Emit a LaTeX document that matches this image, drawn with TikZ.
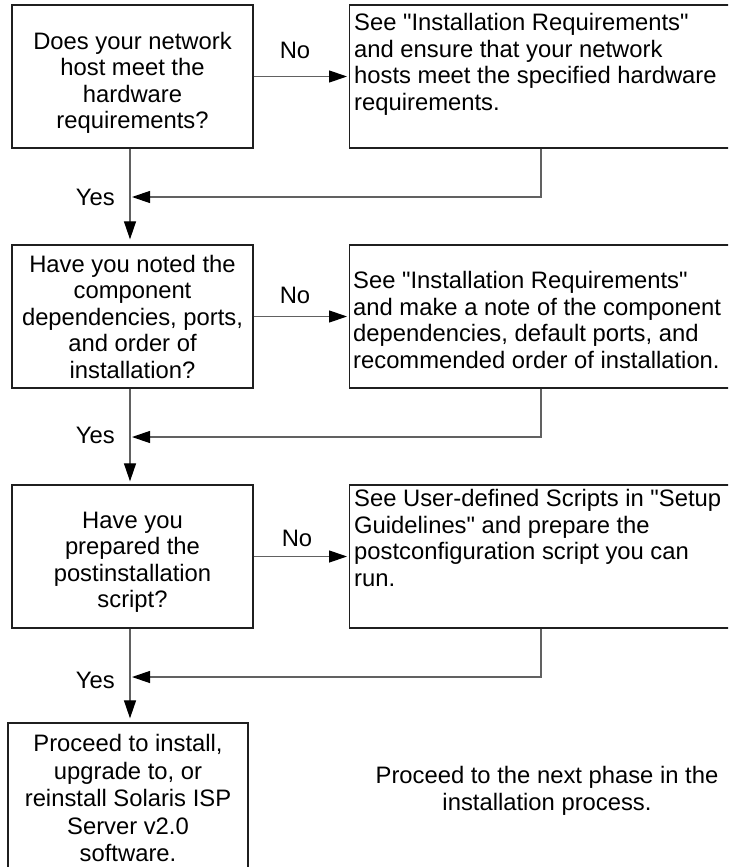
\documentclass[tikz,border=0pt]{standalone}
\usepackage{fontspec}
\setmainfont{Liberation Sans}
\usetikzlibrary{arrows.meta,calc}
\newcommand\qq{\textquotedbl}
\begin{document}
\begin{tikzpicture}[x=1pt,y=-1pt,
  every node/.style={font=\fontsize{23.8}{26.5}\selectfont},
  lbox/.style={draw=black!88, line width=1.3pt, minimum width=241pt,
    minimum height=143pt, inner sep=0pt, align=center},
  rbox/.style={draw=black!88, line width=1.3pt, minimum width=420pt,
    minimum height=143pt, inner sep=0pt, anchor=west},
  rtext/.style={inner sep=0pt, align=left, anchor=north west},
  lbl/.style={inner sep=0pt},
  conn/.style={draw=black!62, line width=1.2pt},
  arr/.style={conn, -{Triangle[length=18pt,width=12pt,color=black]}},
]
\useasboundingbox (0,0) rectangle (728,867);
\clip (0,0) rectangle (728,867);

% reference points for the main spine and the return lines
\coordinate (spine) at (130,0);
\coordinate (rx) at (541,0);

% question boxes (a tall strut on the first line sets the text a little lower)
\node[lbox] (b1) at (132.5,76.5) {\rule{0pt}{30pt}Does your network\\host meet the\\hardware\\requirements?};
\node[lbox] (b2) at (132.5,316.5) {Have you noted the\\component\\dependencies, ports,\\and order of\\installation?};
\node[lbox] (b3) at (132.5,556.5) {\rule{0pt}{28pt}Have you\\prepared the\\postinstallation\\script?};
\node[lbox, minimum width=240pt, minimum height=150pt,
  font=\fontsize{23.8}{27.5}\selectfont] (b4) at (128,798)
  {Proceed to install,\\upgrade to, or\\reinstall Solaris ISP\\Server v2.0\\software.};

% action boxes
\node[rbox] (r1) at (349,76.5) {};
\node[rbox] (r2) at (349,316.5) {};
\node[rbox] (r3) at (349,556.5) {};
\node[rtext] (r1t) at ($(r1.north west)+(5,9)$)
  {See \qq Installation Requirements\qq\\and ensure that your network\\hosts meet the specified hardware\\requirements.};
\node[rtext] (r2t) at ($(r2.north west)+(4,27)$)
  {See \qq Installation Requirements\qq\\and make a note of the component\\dependencies, default ports, and\\recommended order of installation.};
\node[rtext] (r3t) at ($(r3.north west)+(5,5)$)
  {See User-defined Scripts in \qq Setup\\Guidelines\qq{} and prepare the\\postconfiguration script you can\\run.};

% closing note
\node[lbl, align=center] (nx) at (547,791) {Proceed to the next phase in the\\installation process.};

% "No" branches
\draw[arr, shorten >=2pt] (b1.east) -- (r1.west);
\draw[arr, shorten >=2pt] (b2.east) -- (r2.west);
\draw[arr, shorten >=2pt] (b3.east) -- (r3.west);
\node[lbl] (n1) at (295,50) {No};
\node[lbl] (n2) at (295,295) {No};
\node[lbl] (n3) at (297,538) {No};

% "Yes" spine
\draw[arr, shorten >=5pt] (b1.south -| spine) -- (b2.north -| spine);
\draw[arr, shorten >=3pt] (b2.south -| spine) -- (b3.north -| spine);
\draw[arr, shorten >=4pt] (b3.south -| spine) -- (b4.north -| spine);

% return lines from the action boxes
\coordinate (j1) at (132,197);
\coordinate (j2) at (132,437);
\coordinate (j3) at (132,677);
\draw[arr] (r1.south -| rx) |- (j1);
\draw[arr] (r2.south -| rx) |- (j2);
\draw[arr] (r3.south -| rx) |- (j3);
\node[lbl, anchor=east] (y1) at ($(j1)+(-17,0)$) {Yes};
\node[lbl, anchor=east] (y2) at ($(j2)+(-17,-2)$) {Yes};
\node[lbl, anchor=east] (y3) at ($(j3)+(-17,3)$) {Yes};
\end{tikzpicture}
\end{document}
